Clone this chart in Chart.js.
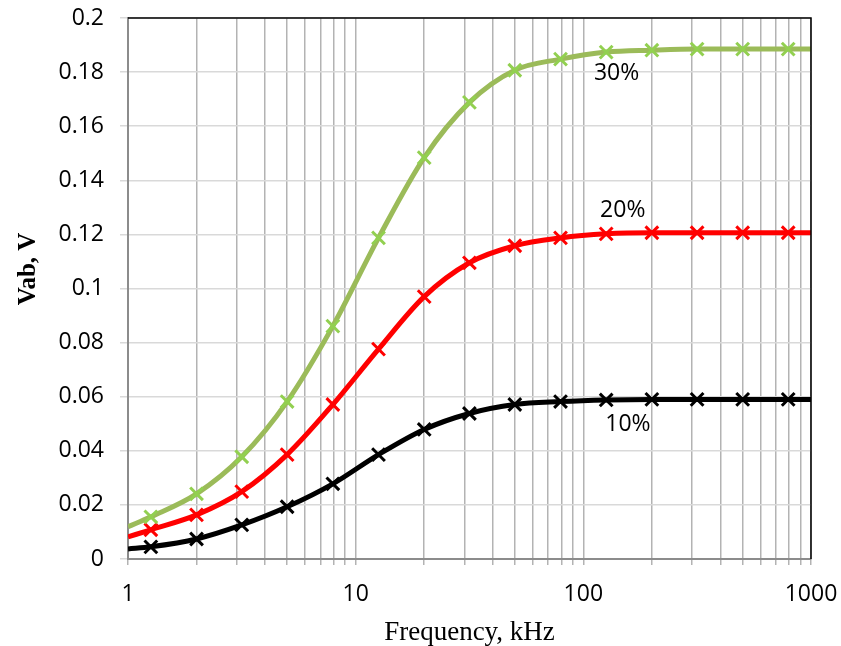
<!DOCTYPE html>
<html>
<head>
<meta charset="utf-8">
<script src="https://cdn.jsdelivr.net/npm/chart.js@4.4.1/dist/chart.umd.min.js"></script>
<style>
  html, body { margin: 0; padding: 0; background: #fff; }
  #wrap { width: 841px; height: 646px; position: relative; }
</style>
</head>
<body>
<div id="wrap"><canvas id="vabChart"></canvas></div>
<script>
// measured frequencies, kHz (marker points)
const freqs = [1.26, 2, 3.16, 5, 7.94, 12.6, 20, 31.6, 50, 79.4, 126, 200, 316, 501, 794];

// Vab, V for each duty level
const vab10 = [0.0045, 0.0074, 0.0126, 0.0193, 0.0278, 0.0386, 0.0479, 0.0538, 0.0571, 0.0582, 0.0588, 0.0590, 0.0590, 0.0590, 0.0590];
const vab20 = [0.0108, 0.0163, 0.0249, 0.0386, 0.0571, 0.0776, 0.0970, 0.1095, 0.1158, 0.1187, 0.1202, 0.1206, 0.1206, 0.1206, 0.1206];
const vab30 = [0.0156, 0.0241, 0.0378, 0.0582, 0.0861, 0.1187, 0.1484, 0.1688, 0.1807, 0.1848, 0.1874, 0.1881, 0.1885, 0.1885, 0.1885];

// curve ends at 1 kHz and 1000 kHz
const curveFreqs = [1, 1000];
const end10 = [0.0037, 0.0590];
const end20 = [0.0082, 0.1206];
const end30 = [0.0119, 0.1885];

const seriesNames = ["10%", "20%", "30%"];
const labelAt = [[157, 0.0497], [149, 0.129], [140, 0.1796]];

const xTitle = "Frequency, kHz";
const yTitle = "Vab, V";

function curve(vals, ends) {
  const pts = [{ x: curveFreqs[0], y: ends[0] }];
  freqs.forEach((f, i) => pts.push({ x: f, y: vals[i] }));
  pts.push({ x: curveFreqs[1], y: ends[1] });
  return pts;
}

function marks(vals) {
  return freqs.map((f, i) => ({ x: f, y: vals[i] }));
}

function lineSet(data, color, width) {
  return {
    data: data,
    borderColor: color,
    borderWidth: width,
    pointRadius: 0,
    cubicInterpolationMode: "monotone",
    fill: false,
    order: 2
  };
}

function markSet(data, color) {
  return {
    data: data,
    showLine: false,
    pointStyle: "crossRot",
    pointRadius: 9,
    pointBorderWidth: 3,
    borderColor: color,
    backgroundColor: color,
    order: 1
  };
}

// top and right frame lines, y title and the series labels
const framePlugin = {
  id: "frame",
  afterDraw(chart) {
    const { ctx, chartArea: a, scales } = chart;
    ctx.save();
    ctx.strokeStyle = "#000";
    ctx.lineWidth = 1.5;
    ctx.beginPath();
    ctx.moveTo(a.left, a.top);
    ctx.lineTo(a.right, a.top);
    ctx.lineTo(a.right, a.bottom);
    ctx.stroke();

    ctx.fillStyle = "#000";
    ctx.textAlign = "center";
    ctx.textBaseline = "middle";

    ctx.save();
    ctx.translate(29, 269);
    ctx.rotate(-Math.PI / 2);
    ctx.font = "bold 25px 'Liberation Serif'";
    ctx.fillText(yTitle, 0, 0);
    ctx.restore();

    ctx.font = "23px 'Open Sans'";
    seriesNames.forEach((name, i) => {
      const px = scales.x.getPixelForValue(labelAt[i][0]);
      const py = scales.y.getPixelForValue(labelAt[i][1]);
      ctx.fillText(name, px, py);
    });
    ctx.restore();
  }
};

const decadeTicks = [];
[1, 10, 100].forEach(d => {
  for (let m = 1; m < 10; m++) decadeTicks.push({ value: m * d });
});
decadeTicks.push({ value: 1000 });

new Chart(document.getElementById("vabChart"), {
  type: "line",
  data: {
    datasets: [
      lineSet(curve(vab30, end30), "#9bbb59", 5),
      lineSet(curve(vab20, end20), "#ff0000", 5),
      lineSet(curve(vab10, end10), "#000000", 5),
      markSet(marks(vab30), "#92d050"),
      markSet(marks(vab20), "#ff0000"),
      markSet(marks(vab10), "#000000")
    ]
  },
  options: {
    responsive: true,
    maintainAspectRatio: false,
    animation: false,
    layout: { padding: { left: 4, top: 18, right: 30, bottom: 0 } },
    plugins: {
      legend: { display: false },
      tooltip: { enabled: false }
    },
    scales: {
      x: {
        type: "logarithmic",
        min: 1,
        max: 1000,
        afterBuildTicks(scale) { scale.ticks = decadeTicks.map(t => ({ value: t.value })); },
        afterFit(scale) {
          scale.height = 87;
          scale.paddingLeft = 0;
          scale.paddingRight = 0;
        },
        ticks: {
          autoSkip: false,
          maxRotation: 0,
          padding: 16,
          color: "#000",
          font: { family: "'Open Sans'", size: 23 },
          callback: v => (Math.abs(Math.log10(v) - Math.round(Math.log10(v))) < 1e-9 ? String(v) : "")
        },
        grid: { color: "#b3b3b3", lineWidth: 1.5, tickLength: 6 },
        border: { color: "#8c8c8c", width: 2 },
        title: {
          display: true,
          text: xTitle,
          color: "#000",
          font: { family: "'Liberation Serif'", size: 27 },
          padding: { top: 2, bottom: -3 }
        }
      },
      y: {
        min: 0,
        max: 0.2,
        afterFit(scale) {
          scale.width = 124;
          scale.paddingTop = 0;
          scale.paddingBottom = 0;
        },
        ticks: {
          stepSize: 0.02,
          padding: 16,
          color: "#000",
          font: { family: "'Open Sans'", size: 23 },
          callback: v => String(+v.toFixed(2))
        },
        grid: { color: "#d9d9d9", lineWidth: 1.5, tickLength: 8 },
        border: { color: "#8c8c8c", width: 2 }
      }
    }
  },
  plugins: [framePlugin]
});
</script>
</body>
</html>
